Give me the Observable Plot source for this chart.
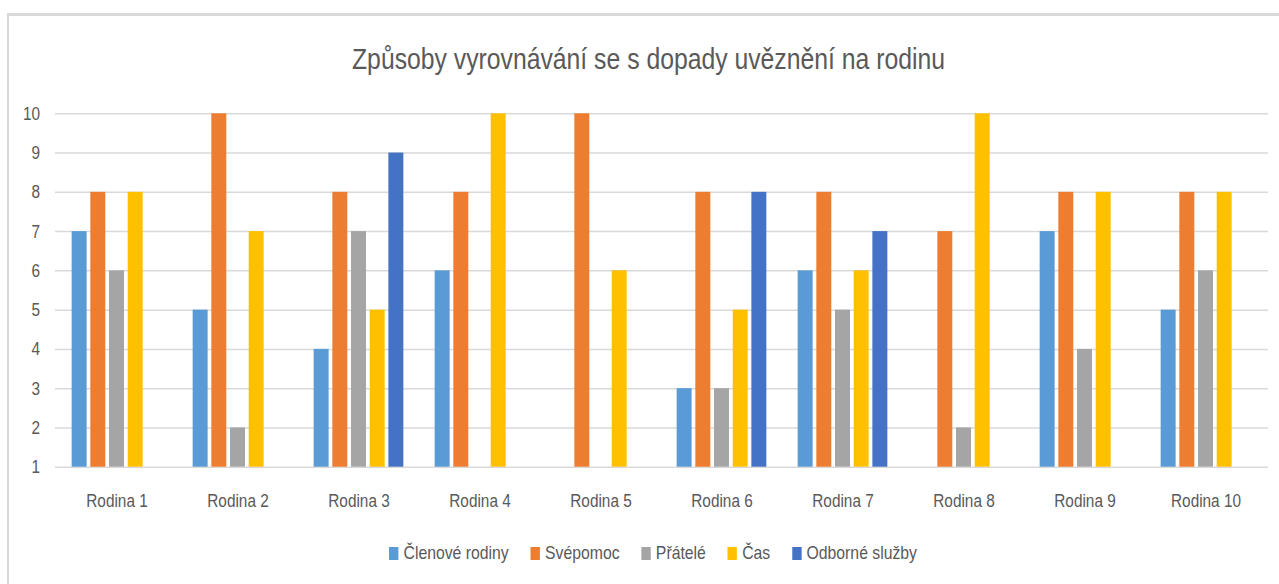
<!DOCTYPE html>
<html>
<head>
<meta charset="utf-8">
<script src="https://cdn.jsdelivr.net/npm/d3@7"></script>
<script src="https://cdn.jsdelivr.net/npm/@observablehq/plot@0.6"></script>
<style>
  body { margin: 0; background: #fff; }
  #page { position: relative; width: 1279px; height: 584px; overflow: hidden; font-family: "Liberation Sans", Arial, sans-serif; color: #595959; }
  #frame { position: absolute; left: 7px; top: 13px; width: 1400px; height: 700px; border-left: 2px solid #d9d9d9; border-top: 3px solid #d9d9d9; }
  #title { position: absolute; left: 0; top: 42px; font-size: 30px; line-height: 34px; white-space: nowrap; transform-origin: 0 0; }
  #chart { position: absolute; left: 0; top: 80px; }
  #legend { position: absolute; left: 0; top: 541px; display: flex; font-size: 18.5px; line-height: 24px; white-space: nowrap; transform-origin: 0 0; }
  .item { display: flex; align-items: center; margin-right: 25.6px; }
  .item:last-child { margin-right: 0; }
  .sw { width: 11px; height: 13px; margin-right: 6px; }
</style>
</head>
<body>
<div id="page">
  <div id="frame"></div>
  <div id="title">Způsoby vyrovnávání se s dopady uvěznění na rodinu</div>
  <div id="chart"></div>
  <div id="legend"></div>
</div>
<script>
const families = ["Rodina 1","Rodina 2","Rodina 3","Rodina 4","Rodina 5","Rodina 6","Rodina 7","Rodina 8","Rodina 9","Rodina 10"];
const seriesNames = ["Členové rodiny","Svépomoc","Přátelé","Čas","Odborné služby"];
const seriesColors = ["#5B9BD5","#ED7D31","#A5A5A5","#FFC000","#4472C4"];
const clenoveRodiny = [7,5,4,6,null,3,6,null,7,5];
const svepomoc      = [8,10,8,8,10,8,8,7,8,8];
const pratele       = [6,2,7,null,null,3,5,2,4,6];
const cas           = [8,7,5,10,6,5,6,10,8,8];
const odborneSluzby = [null,null,9,null,null,8,7,null,null,null];
const yTicks = [1,2,3,4,5,6,7,8,9,10];

const seriesValues = [clenoveRodiny, svepomoc, pratele, cas, odborneSluzby];
const rows = [];
seriesNames.forEach((s, i) => {
  families.forEach((f, j) => {
    const v = seriesValues[i][j];
    if (v != null) rows.push({family: f, series: s, idx: i, value: v});
  });
});

const W = 1279, mL = 55, mR = 11, pIn = 0.23, pOut = 0.115;
const step = (W - mL - mR) / (families.length - pIn + 2 * pOut);
const slot = step * (1 - pIn) / seriesNames.length, gap = 1.65;
const barMarks = seriesNames.map((s, i) =>
  Plot.barY(rows.filter(d => d.idx === i), {
    x: "family", y1: 1, y2: "value", fill: seriesColors[i],
    insetLeft: i * slot + gap, insetRight: (seriesNames.length - 1 - i) * slot + gap
  })
);

const chart = Plot.plot({
  width: W,
  height: 440,
  marginTop: 33.3,
  marginBottom: 53.3,
  marginLeft: mL,
  marginRight: mR,
  style: {fontFamily: "'Liberation Sans', Arial, sans-serif", fontSize: "18.5px", color: "#595959", background: "transparent"},
  x: {domain: families, paddingInner: pIn, paddingOuter: pOut, label: null, tickSize: 0, tickPadding: 26.6},
  y: {domain: [1, 10], ticks: yTicks, label: null, tickSize: 0, tickPadding: 15.5},
  marks: [
    Plot.ruleY(yTicks, {stroke: "#d9d9d9", strokeWidth: 1.5}),
    ...barMarks
  ]
});
document.getElementById("chart").appendChild(chart);

// narrow the tick labels horizontally around their anchor point
chart.querySelectorAll("text").forEach(el => {
  const t = el.getAttribute("transform") || "";
  const x = +(el.getAttribute("x") || 0);
  el.setAttribute("transform", `${t} translate(${x},0) scale(0.83,1) translate(${-x},0)`);
});

// title: fit to reference width, centred
const title = document.getElementById("title");
const tw = title.getBoundingClientRect().width;
const ts = 593 / tw;
title.style.left = (648.5 - 593 / 2) + "px";
title.style.transform = `scaleX(${ts})`;

// legend
const legend = document.getElementById("legend");
seriesNames.forEach((s, i) => {
  const item = document.createElement("div");
  item.className = "item";
  const sw = document.createElement("div");
  sw.className = "sw";
  sw.style.background = seriesColors[i];
  const t = document.createElement("span");
  t.textContent = s;
  item.appendChild(sw);
  item.appendChild(t);
  legend.appendChild(item);
});
const lw = legend.getBoundingClientRect().width;
const ls = 528 / lw;
legend.style.left = (653 - 528 / 2) + "px";
legend.style.transform = `scaleX(${ls})`;
</script>
</body>
</html>
